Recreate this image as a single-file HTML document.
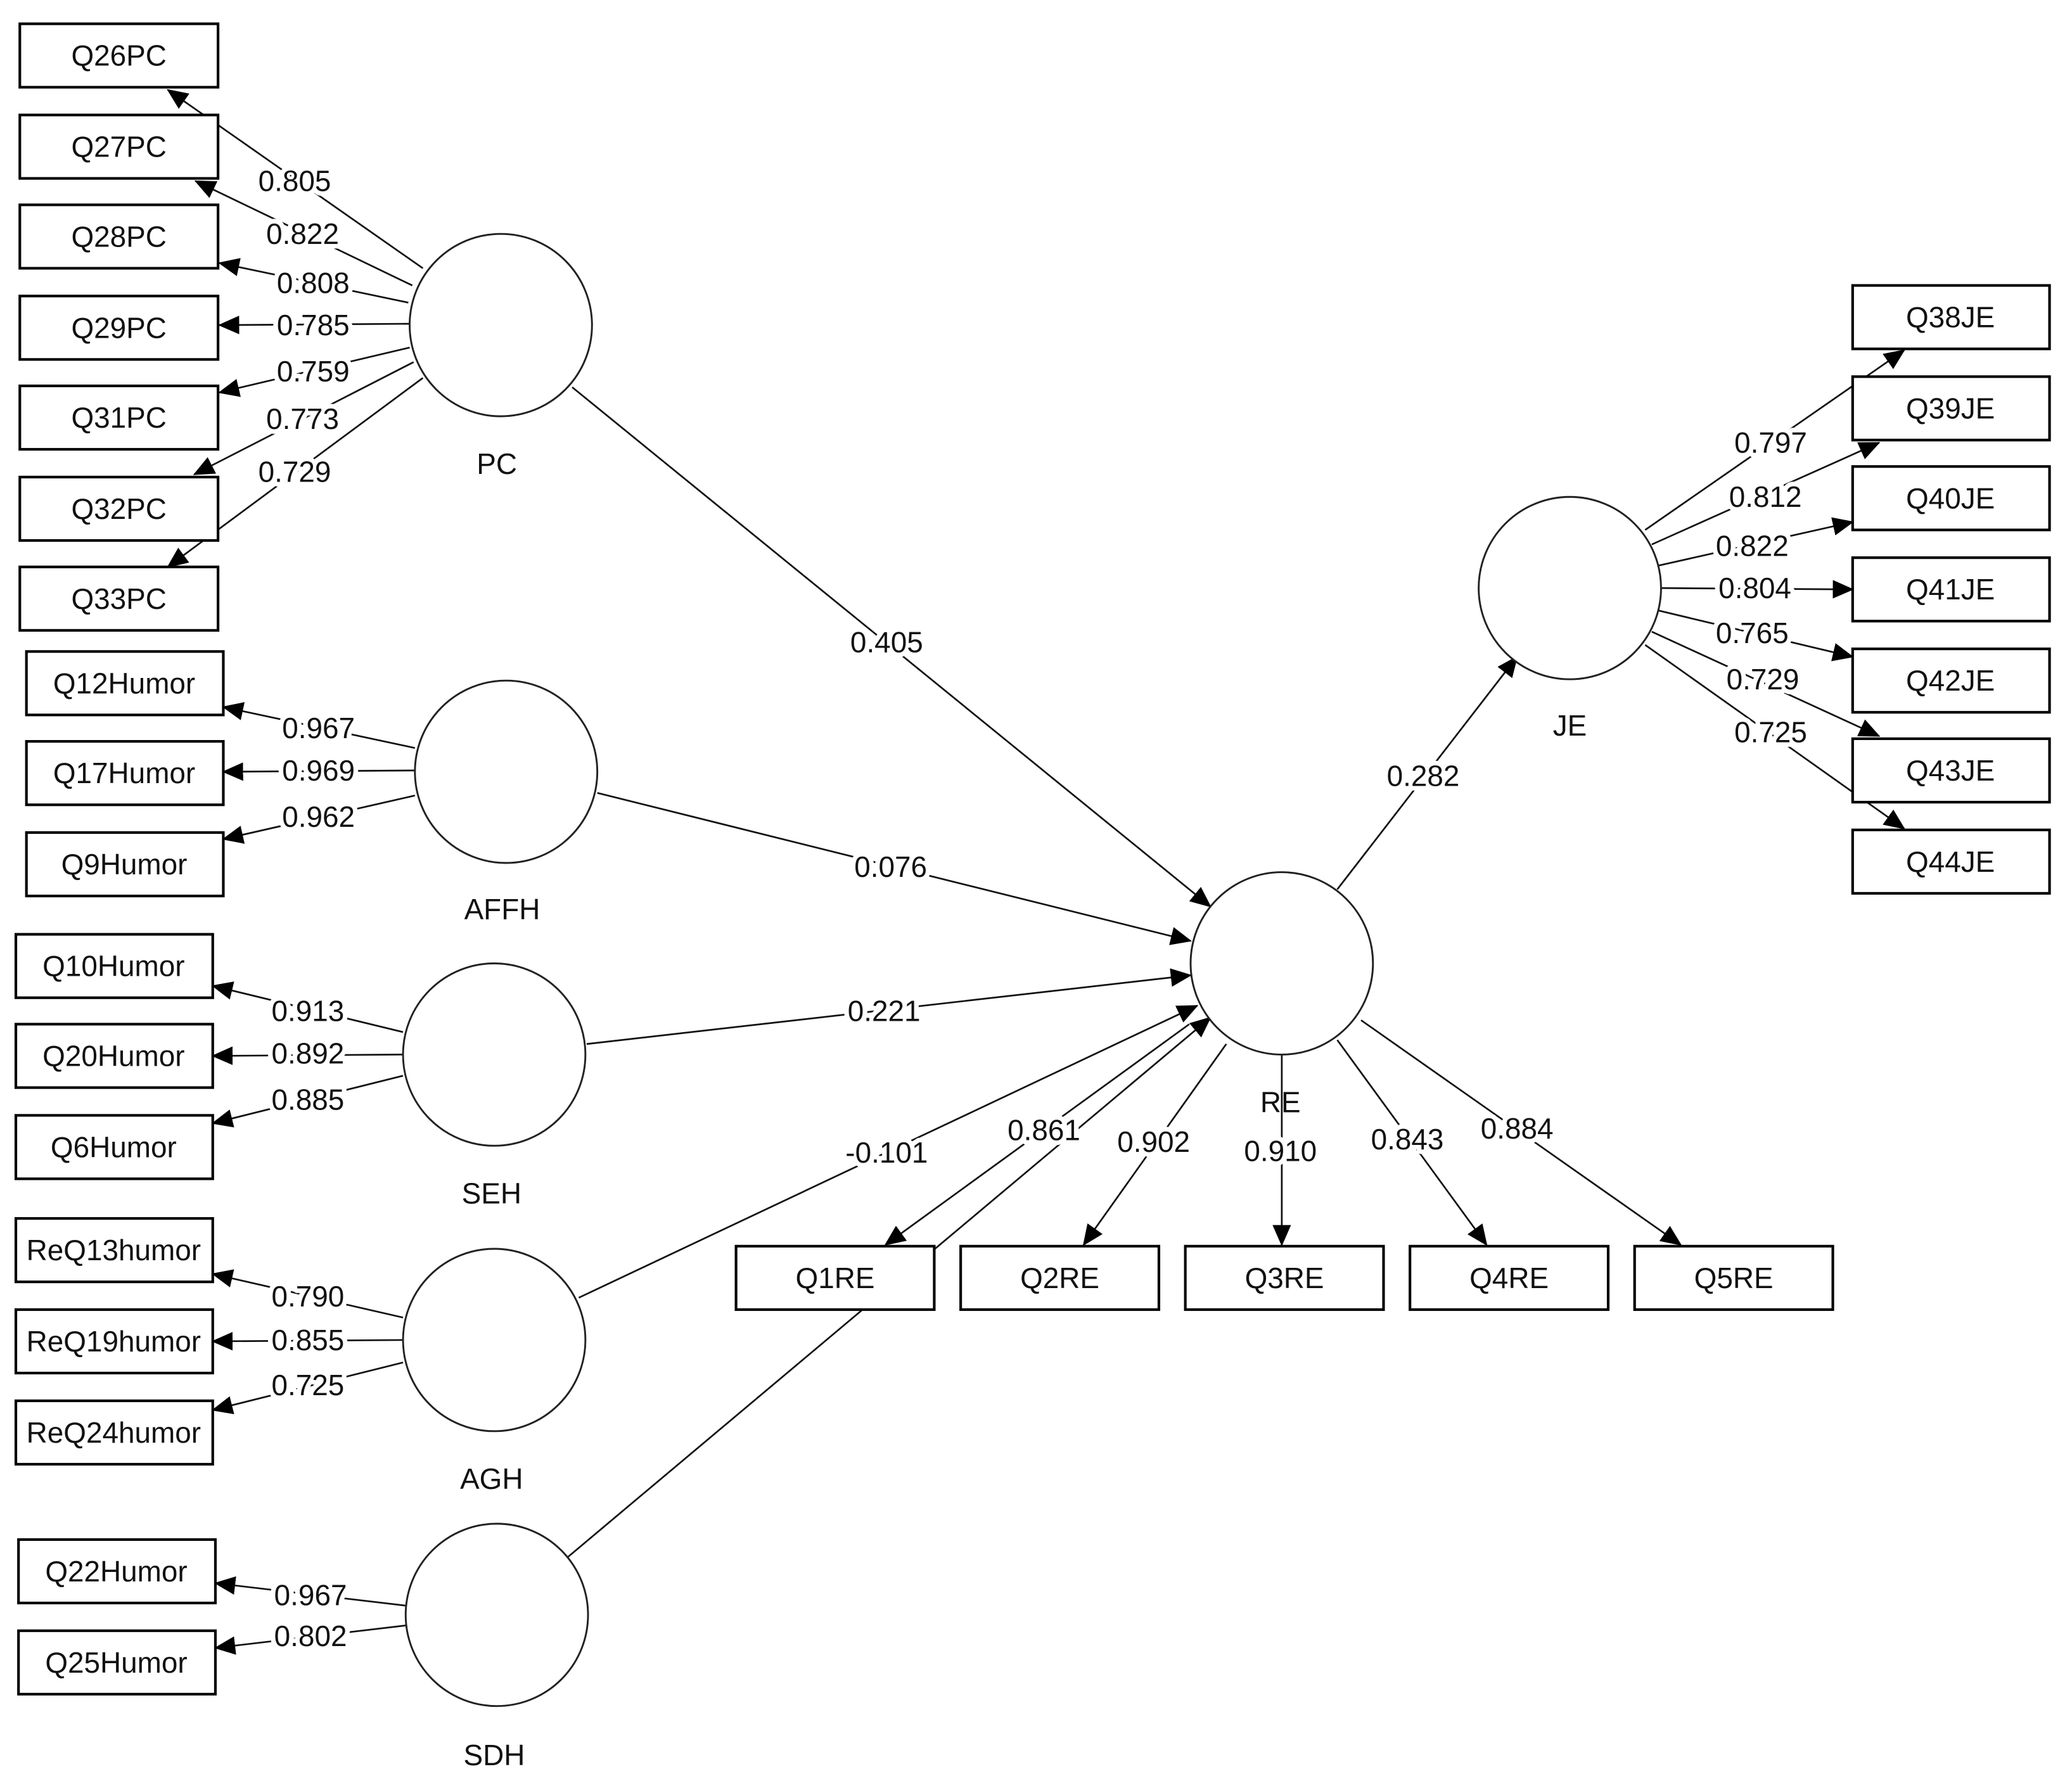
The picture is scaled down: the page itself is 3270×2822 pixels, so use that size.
<!DOCTYPE html>
<html><head><meta charset="utf-8"><style>
html,body{margin:0;padding:0;background:#fff;}
svg{display:block;}
text{font-family:"Liberation Sans",sans-serif;font-size:22px;fill:#111;text-anchor:middle;dominant-baseline:central;}
.l{stroke:#111;stroke-width:1.3;fill:none;}
.b{fill:#fff;stroke:#000;stroke-width:2;}
.c{fill:#fff;stroke:#222;stroke-width:1.4;}
.n{paint-order:stroke;stroke:#fff;stroke-width:7px;stroke-linejoin:round;}
</style></head><body>
<svg width="3270" height="2822" viewBox="0 0 1568 1353" preserveAspectRatio="none" xmlns="http://www.w3.org/2000/svg">
<defs><marker id="a" markerUnits="userSpaceOnUse" markerWidth="16" markerHeight="14" refX="15" refY="7" orient="auto"><path d="M0,0 L16,7 L0,14 Z" fill="#000"/></marker></defs>
<g class="l" marker-end="url(#a)">
<line x1="320" y1="203" x2="127" y2="68"/>
<line x1="312" y1="216" x2="148" y2="137"/>
<line x1="309" y1="229" x2="166" y2="199"/>
<line x1="310" y1="245" x2="166" y2="246"/>
<line x1="310" y1="263" x2="166" y2="297"/>
<line x1="313" y1="274" x2="147" y2="359"/>
<line x1="320" y1="286" x2="127" y2="429"/>
<line x1="314" y1="566" x2="169" y2="535"/>
<line x1="314" y1="583" x2="169" y2="584"/>
<line x1="314" y1="602" x2="169" y2="635"/>
<line x1="305" y1="781" x2="161" y2="746"/>
<line x1="305" y1="798" x2="161" y2="799"/>
<line x1="305" y1="814" x2="161" y2="850"/>
<line x1="305" y1="997" x2="161" y2="964"/>
<line x1="305" y1="1014" x2="161" y2="1015"/>
<line x1="305" y1="1031" x2="161" y2="1067"/>
<line x1="307" y1="1215" x2="163" y2="1198"/>
<line x1="307" y1="1230" x2="163" y2="1247"/>
<line x1="433" y1="293" x2="916" y2="686"/>
<line x1="452" y1="600" x2="901" y2="712"/>
<line x1="444" y1="790" x2="901" y2="738"/>
<line x1="438" y1="982" x2="906" y2="761"/>
<line x1="430" y1="1178" x2="916" y2="770"/>
<line x1="900" y1="775" x2="670" y2="942"/>
<line x1="928" y1="790" x2="820" y2="942"/>
<line x1="970" y1="798" x2="970" y2="942"/>
<line x1="1012" y1="787" x2="1125" y2="942"/>
<line x1="1030" y1="772" x2="1272" y2="942"/>
<line x1="1012" y1="673" x2="1148" y2="497"/>
<line x1="1245" y1="401" x2="1441" y2="265"/>
<line x1="1250" y1="412" x2="1422" y2="335"/>
<line x1="1255" y1="428" x2="1402" y2="395"/>
<line x1="1257" y1="445" x2="1402" y2="446"/>
<line x1="1255" y1="462" x2="1402" y2="497"/>
<line x1="1250" y1="478" x2="1422" y2="557"/>
<line x1="1245" y1="488" x2="1441" y2="627"/>
</g>
<g class="c">
<circle cx="379" cy="246" r="69"/><circle cx="383" cy="584" r="69"/><circle cx="374" cy="798" r="69"/>
<circle cx="374" cy="1014" r="69"/><circle cx="376" cy="1222" r="69"/><circle cx="970" cy="729" r="69"/><circle cx="1188" cy="445" r="69"/>
</g>
<g class="b">
<rect x="15" y="18" width="150" height="48"/><rect x="15" y="87" width="150" height="48"/><rect x="15" y="155" width="150" height="48"/>
<rect x="15" y="224" width="150" height="48"/><rect x="15" y="292" width="150" height="48"/><rect x="15" y="361" width="150" height="48"/><rect x="15" y="429" width="150" height="48"/>
<rect x="20" y="493" width="149" height="48"/><rect x="20" y="561" width="149" height="48"/><rect x="20" y="630" width="149" height="48"/>
<rect x="12" y="707" width="149" height="48"/><rect x="12" y="775" width="149" height="48"/><rect x="12" y="844" width="149" height="48"/>
<rect x="12" y="922" width="149" height="48"/><rect x="12" y="991" width="149" height="48"/><rect x="12" y="1060" width="149" height="48"/>
<rect x="14" y="1165" width="149" height="48"/><rect x="14" y="1234" width="149" height="48"/>
<rect x="1402" y="216" width="149" height="48"/><rect x="1402" y="285" width="149" height="48"/><rect x="1402" y="353" width="149" height="48"/>
<rect x="1402" y="422" width="149" height="48"/><rect x="1402" y="491" width="149" height="48"/><rect x="1402" y="559" width="149" height="48"/><rect x="1402" y="628" width="149" height="48"/>
<rect x="557" y="943" width="150" height="48"/><rect x="727" y="943" width="150" height="48"/><rect x="897" y="943" width="150" height="48"/>
<rect x="1067" y="943" width="150" height="48"/><rect x="1237" y="943" width="150" height="48"/>
</g>
<g>
<text x="90" y="42">Q26PC</text><text x="90" y="111">Q27PC</text><text x="90" y="179">Q28PC</text><text x="90" y="248">Q29PC</text>
<text x="90" y="316">Q31PC</text><text x="90" y="385">Q32PC</text><text x="90" y="453">Q33PC</text>
<text x="94" y="517">Q12Humor</text><text x="94" y="585">Q17Humor</text><text x="94" y="654">Q9Humor</text>
<text x="86" y="731">Q10Humor</text><text x="86" y="799">Q20Humor</text><text x="86" y="868">Q6Humor</text>
<text x="86" y="946">ReQ13humor</text><text x="86" y="1015">ReQ19humor</text><text x="86" y="1084">ReQ24humor</text>
<text x="88" y="1189">Q22Humor</text><text x="88" y="1258">Q25Humor</text>
<text x="1476" y="240">Q38JE</text><text x="1476" y="309">Q39JE</text><text x="1476" y="377">Q40JE</text><text x="1476" y="446">Q41JE</text>
<text x="1476" y="515">Q42JE</text><text x="1476" y="583">Q43JE</text><text x="1476" y="652">Q44JE</text>
<text x="632" y="967">Q1RE</text><text x="802" y="967">Q2RE</text><text x="972" y="967">Q3RE</text><text x="1142" y="967">Q4RE</text><text x="1312" y="967">Q5RE</text>
<text x="376" y="351">PC</text><text x="380" y="688">AFFH</text><text x="372" y="903">SEH</text><text x="372" y="1119">AGH</text><text x="374" y="1328">SDH</text>
<text x="969" y="834">RE</text><text x="1188" y="549">JE</text>
</g>
<g class="n">
<text x="223" y="137">0.805</text><text x="229" y="177">0.822</text><text x="237" y="214">0.808</text><text x="237" y="246">0.785</text>
<text x="237" y="281">0.759</text><text x="229" y="317">0.773</text><text x="223" y="357">0.729</text>
<text x="241" y="551">0.967</text><text x="241" y="583">0.969</text><text x="241" y="618">0.962</text>
<text x="233" y="765">0.913</text><text x="233" y="797">0.892</text><text x="233" y="832">0.885</text>
<text x="233" y="981">0.790</text><text x="233" y="1014">0.855</text><text x="233" y="1048">0.725</text>
<text x="235" y="1207">0.967</text><text x="235" y="1238">0.802</text>
<text x="671" y="486">0.405</text><text x="674" y="656">0.076</text><text x="669" y="765">0.221</text><text x="671" y="872">-0.101</text>
<text x="790" y="855">0.861</text><text x="873" y="864">0.902</text><text x="969" y="871">0.910</text><text x="1065" y="862">0.843</text><text x="1148" y="854">0.884</text>
<text x="1077" y="587">0.282</text>
<text x="1340" y="335">0.797</text><text x="1336" y="376">0.812</text><text x="1326" y="413">0.822</text><text x="1328" y="445">0.804</text>
<text x="1326" y="479">0.765</text><text x="1334" y="514">0.729</text><text x="1340" y="554">0.725</text>
</g>
</svg>
</body></html>
